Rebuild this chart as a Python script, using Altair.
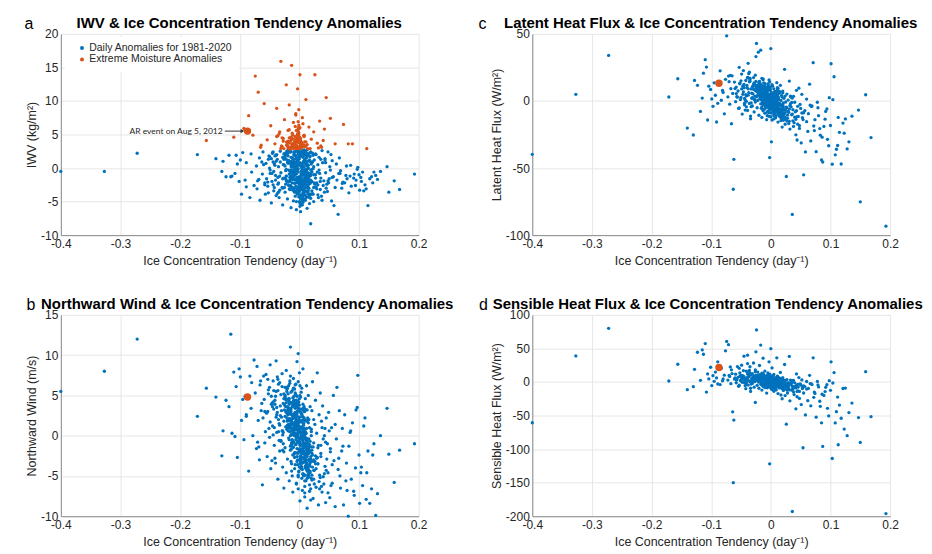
import altair as alt
import pandas as pd

# ---------------- data ----------------
ice_tendency = [
    -0.400, -0.327, -0.272, -0.171, -0.156, -0.140, -0.130, -0.128, -0.123, -0.115,
    -0.118, -0.113, -0.110, -0.108, -0.106, -0.104, -0.101, -0.099, -0.097, -0.095,
    -0.093, -0.091, -0.089, -0.085, -0.083, -0.081, -0.078, -0.076, -0.074, -0.072,
    -0.071, -0.069, -0.067, -0.066, -0.064, -0.062, -0.061, -0.059, -0.058, -0.056,
    -0.055, -0.054, -0.052, -0.051, -0.049, -0.048, -0.047, -0.045, -0.044, -0.042,
    -0.041, -0.040, -0.039, -0.038, -0.037, -0.036, -0.035, -0.034, -0.033, -0.032,
    -0.031, -0.031, -0.030, -0.029, -0.028, -0.028, -0.027, -0.026, -0.026, -0.025,
    -0.024, -0.024, -0.023, -0.022, -0.022, -0.021, -0.020, -0.020, -0.019, -0.018,
    -0.018, -0.017, -0.017, -0.016, -0.015, -0.015, -0.014, -0.013, -0.013, -0.012,
    -0.012, -0.011, -0.011, -0.010, -0.010, -0.009, -0.009, -0.008, -0.008, -0.007,
    -0.007, -0.006, -0.006, -0.005, -0.005, -0.004, -0.004, -0.003, -0.003, -0.002,
    -0.002, -0.001, -0.001, 0.000, 0.000, 0.001, 0.001, 0.002, 0.002, 0.003,
    0.003, 0.004, 0.004, 0.005, 0.005, 0.006, 0.006, 0.007, 0.007, 0.008,
    0.008, 0.009, 0.009, 0.010, 0.010, 0.011, 0.011, 0.012, 0.012, 0.013,
    0.013, 0.014, 0.015, 0.015, 0.016, 0.017, 0.017, 0.018, 0.018, 0.019,
    0.020, 0.020, 0.021, 0.022, 0.022, 0.023, 0.024, 0.024, 0.025, 0.026,
    0.026, 0.027, 0.028, 0.029, 0.030, 0.031, 0.032, 0.033, 0.034, 0.035,
    0.036, 0.037, 0.038, 0.039, 0.040, 0.042, 0.043, 0.044, 0.045, 0.047,
    0.048, 0.049, 0.051, 0.052, 0.054, 0.055, 0.057, 0.058, 0.060, 0.062,
    0.063, 0.065, 0.067, 0.069, 0.071, 0.074, 0.076, 0.079, 0.082, 0.085,
    0.087, 0.089, 0.092, 0.095, 0.098, 0.101, 0.103, 0.106, 0.110, 0.113,
    0.115, 0.118, 0.123, 0.128, 0.136, 0.147, 0.150, 0.159, 0.168, 0.193,
    0.066, 0.072, 0.078, 0.083, 0.091, 0.097, 0.104, 0.108, 0.121, 0.131,
    -0.089, -0.080, -0.068, -0.063, -0.057, -0.053, -0.046, -0.043, -0.039, -0.034,
    -0.016, 0.004, -0.009, 0.012, -0.003, 0.018, -0.021, 0.007, -0.012, 0.001,
    0.009, -0.014, 0.002, -0.006, 0.015, -0.019, 0.006, -0.001, 0.021, -0.008,
    -0.004, 0.011, -0.017, 0.003, -0.010, 0.008, -0.024, 0.014, -0.002, 0.005,
    0.017, -0.007, 0.000, -0.013, 0.010, -0.005, 0.024, -0.011, 0.003, -0.020,
    -0.001, 0.006, -0.015, 0.013, -0.008, 0.002, -0.027, 0.019, -0.004, 0.009,
    0.005, -0.010, 0.016, -0.003, -0.018, 0.011, -0.006, 0.001, 0.027, -0.013,
    -0.008, 0.000, 0.008, -0.022, 0.004, -0.014, 0.013, -0.002, 0.020, -0.005,
    0.012, -0.016, -0.004, 0.006, -0.009, 0.023, -0.001, 0.010, -0.026, 0.002,
    -0.033, -0.038, 0.029, 0.033, -0.044, 0.038, -0.036, 0.031, -0.041, 0.041,
    -0.047, 0.045, -0.050, 0.050, -0.035, 0.036, -0.043, 0.053, -0.053, 0.044,
    0.001, -0.006, 0.014, -0.011, 0.007, -0.017, 0.003, -0.002, 0.010, -0.008,
    -0.013, 0.009, -0.004, 0.017, -0.020, 0.005, -0.007, 0.012, 0.000, -0.015,
    0.004, -0.001, -0.010, 0.008, -0.005, 0.015, -0.012, 0.002, -0.023, 0.011,
    -0.003, 0.013, -0.008, 0.000, 0.019, -0.014, 0.006, -0.018, 0.009, -0.006,
    -0.021, -0.015, -0.009, -0.004, 0.002, 0.007, 0.013, 0.018, -0.026, 0.023,
    -0.018, -0.012, -0.006, 0.000, 0.005, 0.011, 0.016, -0.024, 0.021, -0.002,
    -0.013, -0.007, -0.001, 0.004, 0.009, 0.014, -0.019, 0.019, -0.010, 0.001,
    -0.016, -0.005, 0.003, 0.010, -0.022, 0.015, -0.011, 0.006, -0.003, 0.025,
    -0.008, 0.000, 0.008, -0.014, 0.012, -0.020, 0.017, -0.004, 0.004, -0.028,
    -0.011, -0.002, 0.006, -0.017, 0.013, -0.006, 0.001, 0.020, -0.023, 0.009,
    -0.005, 0.003, 0.011, -0.012, 0.007, -0.018, 0.015, -0.001, -0.009, 0.022,
    -0.014, -0.003, 0.005, 0.012, -0.020, 0.002, -0.007, 0.018, -0.025, 0.008,
    -0.001, -0.010, 0.007, -0.016, 0.014, -0.006, 0.003, -0.022, 0.010, -0.013,
    0.002, -0.008, 0.016, -0.004, -0.015, 0.009, -0.019, 0.005, 0.024, -0.002,
    -0.030, -0.036, -0.042, -0.028, -0.033, -0.039, -0.046, -0.031, -0.037, -0.027,
    0.028, 0.032, 0.037, 0.043, 0.030, 0.035, 0.040, 0.048, 0.027, 0.052,
    -0.012, 0.004, -0.006, 0.010, -0.017, 0.001, -0.003, 0.014, -0.009, 0.006,
    0.000, -0.011, 0.008, -0.005, 0.013, -0.021, 0.003, -0.014, 0.018, -0.007,
    -0.004, 0.006, -0.013, 0.011, -0.008, 0.002, -0.018, 0.016, -0.001, 0.021,
    0.055, 0.060, 0.068, 0.073, 0.080, 0.086, 0.094, 0.100, 0.112, 0.125,
    -0.052, -0.058, -0.065, -0.049, -0.044, -0.070, -0.038, -0.060, -0.035, -0.041,
    0.005, -0.002, 0.012, -0.009, -0.015, 0.007, 0.000, -0.006, 0.019, -0.019,
    -0.010, 0.003, -0.016, 0.009, -0.003, 0.014, -0.024, 0.001, 0.011, -0.007,
    0.008, -0.013, 0.000, -0.005, 0.004, 0.017, -0.011, 0.010, -0.020, 0.013,
    -0.019, -0.008, 0.003, 0.014, -0.013, -0.002, 0.009, -0.024, 0.019, -0.006,
    0.001, -0.016, 0.011, -0.004, 0.006, -0.011, 0.016, -0.029, 0.004, -0.009,
    -0.007, 0.008, -0.018, 0.002, -0.012, 0.013, -0.003, 0.021, -0.021, 0.005,
    0.010, -0.005, -0.015, 0.007, -0.001, 0.018, -0.010, 0.003, -0.026, 0.012,
    -0.003, 0.005, -0.009, 0.015, -0.020, 0.000, 0.011, -0.014, 0.007, -0.006,
    -0.032, -0.040, 0.031, 0.036, -0.045, 0.042, -0.029, 0.034, -0.050, 0.046,
    0.006, -0.012, 0.001, -0.007, 0.013, -0.017, 0.004, -0.002, 0.020, -0.010,
    -0.015, 0.002, -0.005, 0.009, -0.022, 0.015, -0.008, 0.005, -0.001, 0.024,
    0.003, -0.010, 0.012, -0.004, 0.008, -0.019, 0.000, 0.017, -0.012, -0.003,
    -0.011, 0.007, -0.002, -0.016, 0.010, 0.002, -0.006, 0.014, -0.023, 0.001,
]

iwv_anom = [
    -0.5, -0.5, 2.2, 2.0, 4.1, 1.4, -0.5, 1.0, -1.3, -1.3,
    1.9, -1.2, 4.6, -0.8, 1.9, 0.6, -2.0, 1.2, -3.9, 2.3,
    5.9, -1.8, 0.8, 7.8, -4.4, 2.1, 4.9, -2.6, 13.7, 0.3,
    -3.1, 11.3, 1.5, -4.8, 3.4, -0.9, 2.4, 9.6, -2.2, 0.7,
    -1.6, 4.2, -3.7, 1.8, -0.3, 6.3, -5.2, 2.2, 0.9, -2.9,
    3.6, -1.1, -4.1, 8.9, 1.3, -2.4, 0.2, 5.1, -3.3, 2.5,
    -0.7, 15.9, 3.1, -2.9, 1.6, -5.5, 4.4, -1.5, 0.5, 7.2,
    2.0, -3.6, -0.4, 12.4, -1.9, 3.8, 0.9, -4.6, 5.6, -2.5,
    1.1, -0.9, 9.4, -3.2, 2.6, 4.0, -5.9, 0.1, 15.3, -1.7,
    -2.2, 3.3, 0.6, -4.9, 6.8, -1.0, 1.9, -3.5, 2.4, -0.2,
    4.7, -2.7, 1.4, -6.2, 0.3, 3.0, -1.4, 11.8, -3.9, 2.1,
    -0.6, 5.3, -4.3, 1.7, -2.0, 13.9, 0.8, -6.5, 3.6, -1.2,
    2.3, -3.0, 0.0, 7.5, -1.6, -5.1, 3.2, 1.0, -2.6, 4.9,
    -1.9, 0.7, 3.9, -4.0, 2.5, -0.4, 10.2, -2.8, 1.5, -6.0,
    3.5, -1.3, -3.4, 0.4, 6.1, -5.3, 1.8, -0.8, 2.9, -8.3,
    -2.1, 4.3, 0.9, -3.8, 2.2, -0.1, -5.0, 5.4, 1.2, -2.4,
    13.9, -1.0, 2.0, -3.1, 3.7, 0.5, -4.4, 1.6, 7.0, -2.0,
    -1.5, 3.1, -4.8, 0.8, -2.6, 5.8, 1.4, -0.7, 10.5, -3.5,
    2.4, -2.2, 0.2, 7.4, -4.9, 1.1, -1.3, -5.6, 3.6, 0.6,
    -1.8, -6.9, 1.5, -0.4, -3.0, 6.5, -2.2, 0.3, 3.6, -1.2,
    -2.7, 3.6, -0.9, -1.8, 0.1, -3.3, -1.4, -0.6, -2.5, 2.9,
    -5.6, -1.6, -2.2, -1.1, -0.5, 0.2, -3.6, -1.9, -3.2, -0.9,
    -0.8, -2.3, -1.1, -3.7, -1.5, -0.2, -2.0, -3.4, -1.3, -1.7,
    -2.8, -0.6, -1.7, 0.9, -3.9, -2.1, -0.8, -3.4, 1.0, -4.4,
    -1.4, 0.6, -3.0, 1.9, -0.5, -2.3, 3.9, -4.1, 0.2, -1.8,
    -0.3, 2.4, -5.4, 3.4, -1.1, 0.7, -2.7, 5.0, -0.6, -3.6,
    1.2, -2.1, 4.5, -0.9, 2.9, -3.3, 1.7, -1.6, 6.0, 0.1,
    -4.4, 0.0, -1.3, 3.0, -0.2, 1.5, -2.9, -0.7, 2.0, -1.9,
    0.4, -1.0, -2.6, 2.7, 3.8, -4.6, 0.5, -0.3, -2.2, 1.3,
    2.6, -0.4, -2.0, -3.7, 1.1, 0.9, 4.2, -5.7, -1.5, -2.9,
    -1.1, 3.2, -0.8, -0.2, -3.2, 1.0, 0.3, 2.3, -3.9, -0.9,
    1.6, -2.0, 2.8, -2.4, 0.1, 1.9, -1.7, -4.8, 2.1, 4.4,
    -1.2, 2.0, -2.2, -0.3, -2.5, 2.6, 4.8, -4.0, 0.4, -1.9,
    1.4, -3.0, 0.0, -1.6, -3.6, 3.3, -0.5, 2.0, -2.7, 0.8,
    -2.5, 1.8, 0.5, -1.5, 2.4, -3.1, 3.5, -0.1, -1.0, 0.7,
    3.1, -3.5, 0.9, 1.2, -2.1, -0.6, -4.2, 2.2, 4.6, -0.3,
    -1.9, -3.4, 1.3, 0.2, -5.0, 2.1, -0.8, 3.3, -2.4, -1.2,
    0.6, 1.0, -2.3, -2.9, 2.4, -1.3, 6.6, 0.8, -3.0, 8.1,
    3.4, -1.7, 0.8, -3.1, 4.1, -0.6, -2.2, 1.7, 2.9, -3.9,
    -2.6, 5.2, -0.2, 1.4, -4.3, 3.3, -1.4, 0.3, -2.0, 2.8,
    0.9, -3.5, 6.4, -1.0, 2.1, -2.8, 4.0, -4.5, -0.5, 3.7,
    -0.4, 2.5, -2.4, 3.2, -1.2, 0.0, 4.9, -3.7, 1.6, -2.2,
    3.9, -1.5, 1.9, -2.7, 0.5, 2.3, -4.1, 4.4, -0.9, -1.6,
    -3.3, 1.1, -0.7, 5.7, -2.1, 3.1, -5.2, 0.6, 2.0, -1.3,
    2.9, -4.0, -1.8, 1.5, 3.5, -0.3, -2.5, 5.8, -3.0, 0.9,
    4.6, -1.9, 0.4, -3.4, 2.2, 3.0, -0.8, -1.1, -2.9, -4.7,
    -2.3, 3.6, -3.8, 2.4, -0.1, 7.9, -2.6, 1.3, -1.4, 4.3,
    1.8, -0.5, -3.9, 3.3, 0.7, -2.4, 2.6, -5.5, -1.0, 6.9,
    3.3, -1.4, 0.6, -3.0, 5.4, 1.9, -2.0, 2.9, -3.8, 4.0,
    -2.8, 3.0, -4.2, 1.2, -0.6, -3.2, 4.1, -1.9, 2.1, -0.3,
    -1.5, 3.8, 0.2, -2.5, 3.1, -4.0, 5.5, -0.7, 1.0, -3.3,
    2.5, -1.2, 4.7, -3.6, -0.9, 3.4, -2.2, 0.3, 2.3, 6.2,
    -2.0, 1.6, 3.6, -4.4, 0.8, -1.7, 2.4, -3.0, 8.7, -0.2,
    -1.4, -2.9, -0.8, -2.1, -1.6, 0.4, -2.6, -1.0, -3.1, -0.6,
    1.3, -2.5, 3.1, -0.8, 2.4, -1.9, 4.7, 0.5, -2.2, 1.8,
    3.2, -2.8, -0.4, 2.1, -1.3, 4.8, -3.5, 0.1, -1.8, 2.6,
    -0.8, 2.9, -1.9, 0.9, 5.0, -3.7, 1.4, -2.4, 3.9, -0.1,
    -3.4, 0.5, 3.0, -1.6, -2.7, 1.0, 3.6, -0.4, 2.2, -4.3,
    3.0, -1.8, 0.3, -2.9, 4.4, -3.8, 1.2, 2.2, -1.1, 3.5,
    -2.4, 2.8, -0.7, 4.0, -4.6, 1.4, -1.9, 3.2, 0.6, -3.1,
    1.9, -2.2, 3.7, -4.2, 0.4, -1.0, 5.1, -3.4, 2.5, -0.2,
    -1.6, 3.1, -2.7, 0.9, 2.0, -3.9, 4.3, -0.5, 1.3, -2.3,
    4.8, -0.9, 2.4, -1.4, 3.3, -5.0, -2.0, 1.6, -3.6, 3.9,
    0.9, -1.8, -2.5, 1.3, 2.3, -3.6, 4.5, -0.8, 1.7, -2.4,
    2.1, 3.4, -3.2, -0.3, -1.8, 2.9, -4.4, 4.1, 0.8, -1.5,
    -0.6, -2.6, 5.6, 1.0, -1.2, -3.0, 3.0, -4.9, 2.3, 0.2,
    3.6, 0.5, -1.3, -3.5, 2.7, 1.8, 4.6, -2.1, -0.4, 3.1,
    -3.0, 2.2, 3.8, -0.9, -2.5, -4.1, 0.7, 2.9, -1.6, 6.0,
]

northward_wind = [
    5.5, 8.0, 12.0, 2.4, 5.9, 4.8, -2.5, 0.6, 4.4, 12.6,
    3.6, 0.3, 7.9, -0.1, 6.1, -2.7, 8.3, 7.3, 1.9, 4.5,
    -0.5, 4.9, 2.6, -4.4, 7.4, 3.4, 0.0, 9.4, 5.3, -1.6,
    8.6, 1.9, -3.0, 6.3, 3.1, -6.1, 2.2, 4.5, -0.9, 7.6,
    2.8, -2.6, 5.7, 0.9, 8.8, -4.1, 3.9, 1.2, 6.8, -1.2,
    4.4, -3.4, 9.3, 0.4, 2.9, -5.4, 6.4, 1.5, -1.9, 3.7,
    5.1, -0.7, 2.3, 7.7, -3.9, 0.6, 4.0, -6.5, 1.8, 3.2,
    -1.5, 6.0, 3.0, -4.6, 8.1, 0.8, 2.0, -2.9, 5.2, -0.3,
    4.3, 1.1, -5.6, 6.8, -1.8, 11.0, 2.7, -3.5, 0.2, 5.6,
    -0.5, 3.8, -7.0, 1.4, 7.1, -2.3, 4.9, 0.0, -4.1, 2.5,
    6.3, -1.1, 2.1, -6.0, 0.7, 9.2, -3.2, 3.5, -0.8, 10.2,
    1.6, -4.5, 4.2, -1.7, 7.8, -8.1, 0.4, 2.9, -2.5, 5.4,
    -3.8, 0.9, 5.9, -6.8, 2.4, -0.9, 8.3, -5.0, 1.3, -2.1,
    3.0, -7.6, 0.1, 4.6, -3.0, 1.9, -5.6, 6.2, -1.3, -9.0,
    -1.9, 2.2, -4.8, 5.0, -0.4, -6.9, 1.0, 3.6, -3.4, -8.0,
    0.8, -5.3, 3.1, -2.4, 6.7, -7.8, -0.9, 2.0, -4.3, 1.4,
    -3.2, 4.4, -6.4, 0.3, 7.8, -1.5, -8.6, 2.6, -4.9, 5.3,
    -2.2, 1.8, -7.0, 3.7, -5.1, 0.0, -3.8, -8.3, 2.2, -1.0,
    -4.6, 2.9, -7.7, -1.6, 1.0, -5.9, 5.0, -3.1, -8.8, -0.4,
    6.0, -4.2, 3.1, -6.5, -1.9, -8.6, 2.6, -3.4, -10.0, 0.4,
    -5.4, 1.6, -7.4, 3.2, 7.5, -8.4, -4.6, -6.2, 2.2, -4.6,
    -1.9, -8.4, -2.4, -9.9, 0.0, 3.4, -2.3, -5.8, -1.8, -1.0,
    -2.8, 0.9, -5.6, -1.3, -6.9, 3.5, -3.9, 1.2, -6.6, -7.2,
    2.4, 6.6, -1.4, 4.0, 0.5, 7.0, -3.1, 3.3, 5.5, -0.6,
    2.1, -1.2, 4.4, -3.6, 0.8, -2.0, 5.8, 1.5, -0.6, 3.0,
    -0.4, 3.3, -2.8, 5.1, -4.2, 1.0, 2.3, -0.9, -5.5, 4.0,
    0.2, -2.4, 3.9, 1.1, -1.4, 3.6, 2.4, -5.2, 6.7, -3.3,
    -1.1, 1.7, -3.9, 2.6, 0.5, -5.9, -3.0, 4.7, -0.2, 1.3,
    3.4, -4.7, 0.9, 1.8, -2.1, 4.8, -1.0, -3.2, 2.8, -6.3,
    1.0, 5.9, -1.7, -3.0, 2.9, 0.3, -0.5, 6.2, -2.5, -4.4,
    -2.7, 0.6, 2.0, 4.1, -5.3, -1.2, 3.2, -6.6, 0.0, 1.9,
    -4.0, 6.5, -1.6, 3.9, 2.5, -1.4, 1.2, -2.9, -2.0, 0.3,
    1.3, 3.5, -2.8, -5.7, 0.1, 1.0, 7.0, -3.5, -2.8, -6.0,
    4.9, -4.3, -0.2, 0.6, 2.0, -2.6, 5.6, -6.2, 3.0, -0.8,
    -1.6, 2.9, -2.3, 0.7, -3.3, 4.6, 0.0, -4.9, 3.3, 1.5,
    -0.9, 1.8, 4.2, -2.9, 3.6, -1.8, -3.6, 0.9, 1.9, 7.4,
    2.6, -2.0, 0.4, -1.0, 3.7, 1.6, -5.0, -0.3, 1.1, -3.9,
    -2.2, -0.6, 1.6, 4.6, -2.9, -3.2, 0.6, 2.7, -7.1, 0.9,
    2.8, -1.3, 4.1, 0.2, -2.9, 1.5, -4.0, -0.7, 5.2, -3.2,
    1.4, 3.6, -2.1, 0.8, -0.4, -3.7, 2.0, 4.7, -1.8, -5.1,
    -0.9, 2.5, -4.4, 1.9, 3.0, -1.0, 0.6, -2.6, 4.3, -3.5,
    4.0, -0.2, 1.7, -4.9, 2.3, -2.2, -1.5, 3.4, 0.0, -6.0,
    0.7, -3.0, -1.2, 5.4, -0.6, 3.1, -3.6, 1.9, 2.7, 0.1,
    -2.4, 1.2, 3.3, -0.5, -4.4, 2.4, -1.8, 0.5, 4.5, -2.8,
    3.7, -4.1, 0.3, 1.6, -1.5, 6.2, -5.0, 2.2, -0.8, -3.9,
    1.9, 4.3, -3.4, -0.3, 2.9, -1.9, 5.3, -4.6, 3.8, 0.9,
    -1.7, 0.4, -4.8, 3.2, -2.2, 1.1, -0.1, 6.0, -3.1, 2.0,
    -3.3, 2.6, -1.4, 4.9, 0.0, -5.6, 3.5, -2.0, -4.3, 1.7,
    3.1, 5.6, 1.0, -1.8, 6.6, 2.3, 4.0, -0.6, 7.3, 0.4,
    -4.1, -1.2, -6.3, 0.9, -2.7, -5.2, -0.4, -7.1, -3.5, -2.0,
    0.6, -2.7, 3.9, -1.5, 2.1, 5.0, -3.6, -0.9, 1.3, -4.8,
    2.3, -0.8, -2.9, 4.4, -5.3, 3.0, 1.0, -1.7, -3.8, 0.8,
    -0.3, 3.2, 1.8, -3.3, 5.8, -1.1, 2.8, -4.5, 0.5, -2.2,
    -3.6, 1.4, -5.0, -1.3, -6.8, 0.6, -4.0, -2.4, -7.9, -1.0,
    5.2, 3.0, 6.8, 1.7, 4.2, -0.8, 2.6, 7.4, 0.5, 3.9,
    -2.0, 0.9, -4.2, 2.7, 1.5, -1.4, 3.8, 6.4, -6.6, 2.0,
    1.0, -3.0, 3.4, -0.2, 0.3, -4.4, 4.8, -2.6, -1.0, 2.9,
    -1.5, 4.1, -0.7, 1.3, -3.4, -6.1, 0.2, -3.8, 1.8, -0.5,
    3.3, 1.0, -2.2, -4.0, 2.0, -0.7, 0.8, 5.0, -3.0, 1.7,
    -1.2, 4.2, -3.3, 2.5, 0.3, 3.6, -5.1, 6.1, -0.2, 2.2,
    0.9, -2.7, 4.6, 1.8, -1.0, -3.8, 3.1, -4.9, 5.5, -0.5,
    -2.4, 2.9, 1.3, -1.9, 0.6, -4.4, 3.8, 0.2, 4.6, -3.4,
    1.5, -1.6, 2.6, -3.0, 5.9, -0.4, -2.2, 3.0, 0.0, 2.3,
    2.5, 4.9, -3.5, -1.2, 3.6, -4.7, 0.6, -6.6, 6.0, -2.9,
    -0.6, 2.1, 0.5, 3.4, -2.6, 1.9, -3.9, 4.1, -1.4, 0.1,
    1.1, -3.4, 2.9, -0.9, 4.5, -2.0, 0.3, -4.2, 1.7, -5.4,
    0.4, 3.7, -1.8, -2.6, 2.2, 2.6, -0.3, -3.2, 0.9, 4.0,
    2.4, -2.3, 1.2, 0.5, -4.0, 3.3, -1.1, -1.6, 3.6, -0.8,
]

latent_flux = [
    -39.8, 4.9, 33.9, 2.9, 16.5, -20.2, -25.4, 15.3, 11.6, 2.1,
    -7.8, 20.7, 30.7, 25.2, -14.2, 11.0, 8.5, 1.5, -4.0, 13.5,
    4.2, -15.7, 12.7, 22.4, 0.5, 7.8, -9.6, 16.1, 48.5, 3.0,
    18.5, -2.4, 9.1, -17.0, 5.6, -43.5, 14.0, -0.6, 10.3, 2.8,
    7.4, -5.6, 13.2, 1.0, 20.0, -9.8, 4.9, 9.8, -3.0, 15.2,
    3.7, 11.5, -7.1, 28.0, 6.2, -1.9, 14.7, -11.3, 8.9, 2.0,
    10.6, -3.7, 5.3, 17.4, -8.2, 1.3, 12.1, -0.9, 7.7, 33.0,
    42.8, 3.1, -5.1, 9.2, 0.4, 36.3, 6.5, -10.7, 14.5, 2.6,
    4.8, 37.8, -2.2, 8.4, -12.3, 11.2, 0.1, 16.4, -6.5, 5.9,
    -1.3, 7.0, 2.3, -9.1, 12.8, 4.3, -4.4, 9.6, 0.9, -14.0,
    6.1, -3.3, 1.7, 10.5, -7.7, 3.9, -0.4, 15.6, -11.5, -42.2,
    -5.0, 2.2, 8.8, -1.6, 39.0, -30.5, 5.4, -2.8, 12.2, 0.8,
    3.3, -6.7, 0.2, 9.0, -13.4, 4.7, -2.1, 7.1, -8.8, 1.6,
    -3.9, 5.7, -10.9, 1.2, 13.6, -1.1, 8.0, -15.8, 3.0, -6.0,
    2.4, -8.2, 6.9, -3.0, 11.6, -14.6, 0.4, -5.8, 4.1, -19.5,
    -2.6, 7.3, -11.1, 1.9, -6.4, 23.5, -17.4, 3.6, -0.8, -56.3,
    -4.7, 5.1, -13.0, 0.6, -8.5, 14.8, -21.0, -2.0, 2.8, -10.3,
    -84.6, -6.5, 3.4, -16.2, -1.0, -25.3, 7.9, -11.7, -4.0, 9.5,
    -18.4, -2.6, -31.3, 4.9, -13.9, -55.1, -7.2, -38.0, 1.4, -22.7,
    -9.5, 12.5, -29.8, -3.7, 28.5, -14.0, -37.8, -5.1, -20.6, -44.0,
    -45.5, -19.0, -7.8, -28.6, 2.4, 27.7, -47.1, 18.0, -36.0, -12.3,
    -23.4, -47.0, -24.0, -35.8, -11.4, -6.8, -75.2, 4.6, -27.3, -93.3,
    -3.2, -18.7, -1.0, -25.5, -13.6, -33.4, 0.9, -40.2, -16.5, -30.5,
    -1.8, 6.3, 19.0, -65.8, 3.1, -5.2, 22.6, 0.7, 17.1, -13.3,
    6.0, -2.5, 9.3, -4.9, 1.4, -7.6, 11.9, -0.2, 3.5, -9.0,
    0.6, 7.8, -5.9, 4.1, -1.8, 13.0, -10.1, 2.7, -4.2, 10.2,
    -3.6, 3.8, 1.0, -8.0, 6.6, -12.6, 8.3, -2.9, 14.1, 4.4,
    -10.5, 0.3, 4.9, -1.5, -6.1, 8.6, -8.7, 2.0, 11.0, 4.3,
    8.1, 2.0, -4.6, 5.6, -0.5, -3.4, 3.6, -12.0, 1.2, -7.0,
    -1.0, 10.7, -6.3, -5.4, 1.9, 9.9, -8.4, 6.3, -15.0, 15.8,
    2.8, -11.8, 5.0, 7.0, -4.0, 0.0, -1.7, -6.9, 6.0, 12.6,
    7.6, -5.5, 3.2, -9.7, -2.4, -13.2, 10.4, -0.9, 19.2, -3.1,
    -4.3, 9.0, -7.9, 3.5, 1.8, -19.0, 21.4, -15.2, -0.3, -8.1,
    11.0, -17.3, 2.6, -5.6, 16.9, 2.1, -6.8, -12.4, 25.0, -29.1,
    3.6, -4.8, -2.1, 10.0, 6.8, 2.4, -5.3, 0.5, -7.2, 8.8,
    -7.4, 3.1, 11.3, -3.5, 5.4, -10.8, -2.8, 9.4, 1.0, 16.8,
    5.8, -0.7, -6.0, -2.2, 2.6, 6.2, 13.4, -14.2, 4.0, -4.5,
    -8.9, 0.9, 7.4, -3.8, 2.9, -1.3, -6.6, 9.7, 3.9, -11.0,
    8.4, 2.9, -1.8, 5.3, -4.6, 0.9, -7.3, -3.2, 12.0, -9.1,
    4.9, 1.0, 7.7, -2.3, -6.0, 3.4, -9.8, 10.6, -1.4, 0.2,
    -3.0, 6.7, 1.5, -5.4, 2.8, -8.6, 9.1, -4.1, 3.9, -0.6,
    10.1, 0.5, -3.6, 1.9, 6.4, -11.7, 4.2, -1.0, 8.0, -6.9,
    2.2, -0.8, -5.7, 7.5, -2.6, 9.8, -12.4, 3.0, 0.7, 13.4,
    5.6, 1.7, -2.9, 11.2, -7.9, 3.3, -1.2, -6.3, 7.1, -0.3,
    -1.6, 4.4, -8.1, 6.0, 1.4, 4.8, -9.5, 2.5, 9.4, -10.2,
    3.7, -2.2, 0.6, -6.6, 10.9, -1.9, 5.2, -8.4, 14.6, -4.5,
    0.0, 7.9, -3.9, 6.9, -10.8, 2.7, -2.4, 11.5, -6.5, 4.6,
    -2.9, 5.0, -11.2, 1.2, 9.0, -5.1, 12.7, -0.4, -13.8, 3.5,
    9.5, 14.2, 4.6, 11.7, -1.5, 17.6, 6.8, 2.4, 20.3, 0.9,
    -10.6, -3.4, -14.8, -7.3, -16.9, -1.2, -12.1, -20.5, -5.0, -9.0,
    6.2, -3.7, 2.1, -7.0, 8.8, -0.9, 4.0, -11.0, 1.6, -4.2,
    -1.1, 5.7, -6.8, 3.0, -9.2, 10.3, -3.4, 7.2, -12.9, 1.8,
    3.1, -4.9, 9.7, -7.7, 5.9, 0.4, 13.1, -10.0, 1.0, -14.4,
    -8.8, -15.5, -4.2, -22.1, -11.0, -27.0, -6.0, -18.3, -33.2, -13.4,
    12.8, 5.5, 18.7, 8.9, -1.7, 14.3, 4.3, 9.2, 16.0, -4.4,
    -5.6, 2.0, -9.3, 6.5, 11.4, -3.1, 0.3, 4.9, -7.8, 8.6,
    4.4, -1.4, 10.0, -4.8, 2.4, -8.0, 7.4, 0.8, -5.9, 3.8,
    -7.1, 6.9, 1.1, 4.1, -3.3, -9.6, 10.8, -2.7, 13.9, -5.3,
    7.1, 2.2, -3.5, -6.8, 4.5, 0.4, -2.0, 9.8, -9.4, 5.3,
    -1.2, 6.9, -5.5, 3.1, -0.4, 8.0, -8.3, 12.5, 1.8, -3.0,
    2.7, -4.0, 8.2, 0.9, 5.1, -7.3, 1.5, -5.9, 10.4, -1.7,
    -4.7, 3.6, 6.0, -2.8, 0.1, -10.2, 4.9, -0.8, 11.3, -6.4,
    1.0, -1.9, 4.3, -8.9, 7.9, 2.5, -5.2, 6.5, -3.8, 0.6,
    5.7, 9.9, -6.1, -9.8, 12.3, -13.7, 8.6, -4.4, 15.0, -11.6,
    -3.1, 5.9, 1.3, 2.0, -7.6, 7.4, -1.5, 3.4, -9.1, 4.0,
    6.3, -0.7, 3.9, -4.3, 9.2, -6.9, 2.4, -2.6, 0.5, -12.2,
    -2.3, 4.7, -6.4, 1.6, -3.5, 10.9, 0.8, -8.0, 5.4, 2.1,
    3.4, -5.0, 0.3, 7.6, -4.1, -1.1, 4.4, -6.2, 8.8, -0.2,
]

sensible_flux = [
    -60.7, 38.8, 80.0, 1.5, 26.4, -11.5, -7.0, 18.9, 44.3, 47.8,
    2.5, 41.3, 57.2, -15.0, 12.0, 4.6, 22.0, -5.3, 9.4, 1.0,
    14.8, 6.0, 30.0, -3.9, 20.5, 1.8, 10.2, 46.5, 60.4, 2.9,
    55.6, 8.3, -2.5, 18.2, -44.4, -56.7, 4.3, 11.7, -1.1, 23.0,
    7.0, -6.4, 13.6, 2.2, 25.0, -0.4, 9.1, 38.5, 4.8, -10.0,
    16.0, 3.3, 40.0, -4.6, 7.9, 1.0, 22.7, -14.0, 10.5, 5.4,
    -2.1, 12.4, 4.0, 28.3, -7.7, 6.8, 0.6, 18.0, -30.4, 45.0,
    77.6, 2.7, -5.0, 9.7, 14.8, 0.0, 5.9, -9.3, 24.6, 3.6,
    8.6, 55.0, -2.9, 4.4, -12.1, 11.8, 1.1, 35.5, -6.3, 6.2,
    -0.8, 7.4, 2.0, -8.5, 16.2, 3.8, -3.6, 9.2, 0.3, -16.5,
    5.1, -4.2, 0.9, 13.5, -2.0, 3.2, -6.9, 30.0, -0.3, -122.0,
    -5.8, 1.6, 9.9, -1.3, 49.6, -10.2, 4.2, -2.6, 21.0, 0.5,
    2.6, -7.6, -0.4, 11.2, -13.8, 3.9, -3.1, 6.4, -10.5, 1.3,
    -3.2, 5.0, -11.8, 0.2, 36.0, -1.6, 8.8, -17.3, 2.4, -6.2,
    1.5, -8.8, 5.7, -2.8, 14.2, -19.4, -0.5, -5.3, 3.4, -25.0,
    -3.5, 6.5, -12.5, 0.9, -6.0, 26.1, -20.2, 2.5, -1.5, -62.8,
    -5.6, 3.6, -16.4, -0.8, -9.4, 38.1, -28.0, -2.4, 1.9, -12.2,
    -193.0, -7.0, 2.2, -18.7, -1.2, -40.0, 12.0, -14.1, -3.5, 6.6,
    -24.5, -2.9, -33.6, 3.1, -98.0, -16.4, -6.8, -49.0, 0.7, -27.9,
    -9.6, 10.0, -35.5, -3.9, 36.0, -17.1, -52.4, -4.2, -28.7, -60.8,
    -96.0, -20.0, -8.0, -39.2, 2.0, 30.0, -114.0, 14.0, -44.2, -93.5,
    -34.4, -54.0, -70.1, -80.0, -31.4, -53.0, -90.0, 15.4, -51.7, -196.0,
    -2.4, -22.8, 0.8, -36.2, -14.3, -50.5, -1.5, -61.0, -9.7, -45.6,
    -3.0, 4.5, 22.5, -150.0, 3.6, -4.8, 16.8, 0.8, 27.5, -9.3,
    4.2, -1.8, 7.1, -4.6, 0.9, -6.2, 9.5, 0.0, 2.3, -7.4,
    0.3, 5.6, -4.8, 3.0, -2.5, 10.8, -8.2, 1.9, -5.4, 8.0,
    -2.7, 2.4, 1.3, -6.7, 5.1, -9.6, 6.4, -1.9, 11.6, 3.5,
    -8.3, 0.6, 3.8, -0.8, -4.9, 6.9, -7.2, 1.5, 8.7, 4.9,
    6.4, 1.2, -3.5, 4.4, -0.2, -2.6, 2.8, -9.8, 0.7, -5.7,
    -0.6, 8.5, -5.0, -4.3, 2.0, 7.6, -6.7, 4.8, -11.9, 12.7,
    2.1, -9.1, 3.9, 5.5, -3.2, 0.4, -1.1, -5.5, 4.6, 10.1,
    6.1, -4.0, 2.6, -7.9, -1.6, -10.6, 8.2, -0.5, 15.3, -2.2,
    -3.1, 7.5, -6.3, 2.8, 1.2, -14.8, 17.2, -11.6, -0.1, -6.4,
    8.9, -13.2, 1.9, -4.0, 13.3, 1.5, -5.4, -9.7, 20.4, -22.0,
    2.9, -3.7, -1.4, 8.1, 5.3, 1.9, -4.2, 0.3, -5.6, 7.0,
    -5.8, 2.5, 9.0, -2.8, 4.1, -8.5, -2.0, 7.4, 0.6, 13.1,
    4.6, -0.3, -4.7, -1.5, 1.8, 4.9, 10.7, -11.3, 3.0, -3.4,
    -7.0, 0.5, 5.9, -3.0, 2.1, -0.9, -5.2, 7.6, 3.1, -8.6,
    5.1, 2.0, -1.3, 3.8, -3.4, 0.6, -5.2, -2.1, 7.9, -6.4,
    3.2, 0.5, 5.4, -1.6, -4.1, 2.3, -6.8, 7.0, -0.9, 0.1,
    -2.2, 4.5, 1.0, -3.7, 1.8, -5.9, 6.2, -2.8, 2.6, -0.4,
    6.8, 0.3, -2.4, 1.3, 4.4, -7.9, 2.9, -0.7, 5.4, -4.8,
    1.5, -0.6, -3.9, 5.1, -1.8, 6.6, -8.4, 2.0, 0.4, 9.0,
    3.8, 1.1, -2.0, 7.6, -5.3, 2.2, -0.8, -4.3, 4.8, -0.2,
    -1.1, 3.0, -5.5, 4.1, 0.9, 3.2, -6.4, 1.7, 6.3, -7.0,
    2.5, -1.5, 0.4, -4.5, 7.4, -1.3, 3.5, -5.7, 9.8, -3.1,
    0.0, 5.3, -2.6, 4.7, -7.3, 1.8, -1.6, 7.8, -4.4, 3.1,
    -2.0, 3.4, -7.6, 0.8, 6.1, -3.5, 8.6, -0.3, -9.4, 2.4,
    6.4, 9.6, 3.1, 7.9, -1.0, 11.9, 4.6, 1.6, 13.7, 0.6,
    -7.2, -2.3, -10.1, -4.9, -11.5, -0.8, -8.2, -14.0, -3.4, -6.1,
    4.2, -2.5, 1.4, -4.7, 5.9, -0.6, 2.7, -7.4, 1.1, -2.8,
    -0.7, 3.9, -4.6, 2.0, -6.2, 7.0, -2.3, 4.9, -8.7, 1.2,
    2.1, -3.3, 6.6, -5.2, 4.0, 0.3, 8.9, -6.8, 0.7, -9.7,
    -6.0, -10.5, -2.8, -15.0, -7.4, -18.3, -4.1, -12.4, -22.5, -9.1,
    8.7, 3.7, 12.6, 6.0, -1.1, 9.7, 2.9, 6.2, 10.8, -3.0,
    -3.8, 1.4, -6.3, 4.4, 7.7, -2.1, 0.2, 3.3, -5.3, 5.8,
    3.0, -0.9, 6.8, -3.2, 1.6, -5.4, 5.0, 0.5, -4.0, 2.6,
    -4.8, 4.7, 0.7, 2.8, -2.2, -6.5, 7.3, -1.8, 9.4, -3.6,
    4.6, 1.5, -2.3, -4.3, 2.9, 0.2, -1.2, 6.4, -6.0, 3.4,
    -0.8, 4.4, -3.6, 2.0, -0.3, 5.2, -5.4, 8.1, 1.1, -1.9,
    1.7, -2.6, 5.3, 0.6, 3.3, -4.8, 1.0, -3.9, 6.7, -1.1,
    -3.0, 2.3, 3.9, -1.8, 0.1, -6.6, 3.2, -0.5, 7.3, -4.2,
    0.7, -1.2, 2.8, -5.8, 5.1, 1.6, -3.4, 4.2, -2.5, 0.4,
    3.7, 6.4, -4.0, -6.3, 8.0, -8.9, 5.6, -2.9, 9.7, -7.5,
    -2.0, 3.8, 0.8, 1.3, -4.9, 4.8, -1.0, 2.2, -5.9, 2.6,
    4.1, -0.5, 2.5, -2.8, 6.0, -4.5, 1.6, -1.7, 0.3, -7.9,
    -1.5, 3.1, -4.2, 1.0, -2.3, 7.1, 0.5, -5.2, 3.5, 1.4,
    2.2, -3.3, 0.2, 4.9, -2.7, -0.7, 2.9, -4.0, 5.7, -0.1,
]

# AR event of Aug 5, 2012 (big orange dot in every panel)
ar_ice = [-0.087]
ar_iwv = [5.5]
ar_wind = [4.8]
ar_latent = [13.2]
ar_sensible = [21.5]
ar_label = ["AR event on Aug 5, 2012"]

extreme_iwv_threshold = 2.7
daily_label = "Daily Anomalies for 1981-2020"
extreme_label = "Extreme Moisture Anomalies"

x_ticks = [-0.4, -0.3, -0.2, -0.1, 0.0, 0.1, 0.2]
panels = {
    "a": dict(field="iwv", title="IWV & Ice Concentration Tendency Anomalies",
              ytitle="IWV (kg/m²)", domain=[-10, 20], ticks=[-10, -5, 0, 5, 10, 15, 20]),
    "b": dict(field="v", title="Northward Wind & Ice Concentration Tendency Anomalies",
              ytitle="Northward Wind (m/s)", domain=[-10, 15], ticks=[-10, -5, 0, 5, 10, 15]),
    "c": dict(field="lhf", title="Latent Heat Flux & Ice Concentration Tendency Anomalies",
              ytitle="Latent Heat Flux (W/m²)", domain=[-100, 50], ticks=[-100, -50, 0, 50]),
    "d": dict(field="shf", title="Sensible Heat Flux & Ice Concentration Tendency Anomalies",
              ytitle="Sensible Heat Flux (W/m²)", domain=[-200, 100], ticks=[-200, -150, -100, -50, 0, 50, 100]),
}

# ---------------- styling ----------------
FONT = "Liberation Sans"
BLUE = "#0072BD"
ORANGE = "#D95319"
TEXT = "#262626"
W, H = 359, 202
PT = 11

df = pd.DataFrame({"ice": ice_tendency, "iwv": iwv_anom, "v": northward_wind,
                   "lhf": latent_flux, "shf": sensible_flux})
df["kind"] = [extreme_label if w > extreme_iwv_threshold else daily_label for w in df["iwv"]]
ar_df = pd.DataFrame({"ice": ar_ice, "iwv": ar_iwv, "v": ar_wind, "lhf": ar_latent,
                      "shf": ar_sensible, "label": ar_label})

num_expr = "(datum.value < 0 ? '-' : '') + format(abs(datum.value), '{fmt}')"

x_enc = alt.X(
    "ice:Q",
    scale=alt.Scale(domain=[-0.4, 0.2], nice=False, zero=False),
    axis=alt.Axis(values=x_ticks, title="Ice Concentration Tendency (day⁻¹)",
                  labelExpr="datum.value == 0 ? '0' : " + num_expr.format(fmt=".1f")),
)


def y_enc(p):
    return alt.Y(
        f"{p['field']}:Q",
        scale=alt.Scale(domain=p["domain"], nice=False, zero=False),
        axis=alt.Axis(values=p["ticks"], title=p["ytitle"],
                      labelExpr=num_expr.format(fmt="d")),
    )


def text_at(txt, x, y, size, weight):
    return alt.Chart(pd.DataFrame({"t": [txt]})).mark_text(
        font=FONT, fontSize=size, fontWeight=weight, color="black",
        align="center", baseline="alphabetic",
    ).encode(x=alt.value(x), y=alt.value(y), text="t:N")


def panel(key, letter_x, title_x):
    p = panels[key]
    if key == "a":
        pts = alt.Chart(df).mark_circle(size=PT, opacity=1).encode(
            x=x_enc, y=y_enc(p),
            color=alt.Color(
                "kind:N",
                scale=alt.Scale(domain=[daily_label, extreme_label], range=[BLUE, ORANGE]),
                legend=alt.Legend(
                    title=None, orient="none", legendX=4, legendY=3, padding=6,
                    fillColor="white", labelFont=FONT, labelFontSize=10.5,
                    labelColor=TEXT, symbolType="circle", symbolSize=16,
                    symbolStrokeWidth=0, symbolOffset=6, labelOffset=2, rowPadding=0.5,
                ),
            ),
        )
    else:
        pts = alt.Chart(df).mark_circle(size=PT, opacity=1, color=BLUE).encode(
            x=x_enc, y=y_enc(p))
    ar = alt.Chart(ar_df).mark_circle(size=55, opacity=1, color=ORANGE).encode(
        x=x_enc, y=y_enc(p))
    layers = [pts, ar]
    if key == "a":
        ann = pd.DataFrame({"ice": [-0.125], "ice_end": [-0.097], "iwv": ar_iwv})
        layers.append(alt.Chart(ann).mark_rule(color="#333333", strokeWidth=1).encode(
            x=x_enc, x2="ice_end:Q", y=y_enc(p)))
        head = pd.DataFrame({"ice": [-0.0955], "iwv": ar_iwv})
        layers.append(alt.Chart(head).mark_point(
            shape="triangle-right", filled=True, size=18, color="#333333", opacity=1
        ).encode(x=x_enc, y=y_enc(p)))
        lab = pd.DataFrame({"ice": [-0.127], "iwv": ar_iwv, "t": ar_label})
        layers.append(alt.Chart(lab).mark_text(
            font="Lato", fontSize=8.5, color=TEXT, align="right", baseline="middle", dx=-1
        ).encode(x=x_enc, y=y_enc(p), text="t:N"))
    layers.append(text_at(key, letter_x, -5, 16, "normal"))
    layers.append(text_at(p["title"], title_x, -6, 15, "bold"))
    return alt.layer(*layers).properties(width=W, height=H)


chart = alt.concat(
    panel("a", -32, 179),
    panel("c", -50, 179),
    panel("b", -30, 187),
    panel("d", -49, 176),
    columns=2,
    spacing={"row": 80, "column": 114},
    bounds="flush",
).properties(
    padding={"left": 16, "top": 7, "right": 0, "bottom": 0}
).configure_view(stroke=None).configure_axis(
    labelFont=FONT, titleFont=FONT, labelFontSize=12, titleFontSize=12.5,
    labelColor=TEXT, titleColor=TEXT, titleFontWeight="normal",
    gridColor="#e6e6e6", gridWidth=1, domainColor="#8c8c8c", domainWidth=1,
    ticks=False, labelFlush=False, labelPadding=3,
).configure_axisX(titlePadding=5).configure_axisY(titlePadding=2)

chart.save("out.html", embed_options={"renderer": "svg", "actions": False})
